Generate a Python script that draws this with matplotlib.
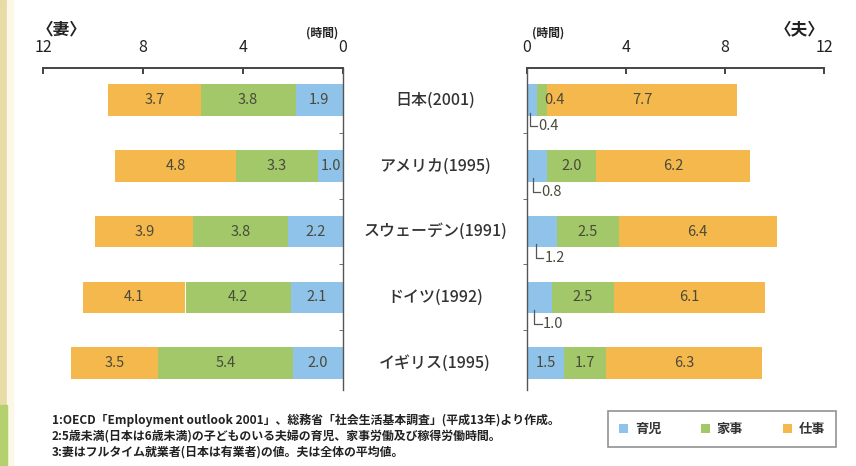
import matplotlib
matplotlib.use("Agg")
import matplotlib.pyplot as plt
from matplotlib.patches import Rectangle, Patch

plt.rcParams['font.family'] = ['Noto Sans CJK JP', 'DejaVu Sans']

countries = ["日本(2001)", "アメリカ(1995)", "スウェーデン(1991)", "ドイツ(1992)", "イギリス(1995)"]
series = ["育児", "家事", "仕事"]
wife_childcare = [1.9, 1.0, 2.2, 2.1, 2.0]
wife_housework = [3.8, 3.3, 3.8, 4.2, 5.4]
wife_work = [3.7, 4.8, 3.9, 4.1, 3.5]
husband_childcare = [0.4, 0.8, 1.2, 1.0, 1.5]
husband_housework = [0.4, 2.0, 2.5, 2.5, 1.7]
husband_work = [7.7, 6.2, 6.4, 6.1, 6.3]
xticks = [0, 4, 8, 12]
notes = [
    "1:OECD「Employment outlook 2001」、総務省「社会生活基本調査」(平成13年)より作成。",
    "2:5歳未満(日本は6歳未満)の子どものいる夫婦の育児、家事労働及び稼得労働時間。",
    "3:妻はフルタイム就業者(日本は有業者)の値。夫は全体の平均値。",
]

colors = ["#8fc3ea", "#a3c86a", "#f5b84c"]
TXT = "#4a4a3a"
W, H = 856, 466
fig = plt.figure(figsize=(W / 100, H / 100), dpi=100, facecolor="white")

def px(x0, y0, x1, y1):
    return [x0 / W, 1 - y1 / H, (x1 - x0) / W, (y1 - y0) / H]

# decorative border strips
fig.patches.append(Rectangle((0, 0), 7 / W, 1, transform=fig.transFigure, color="#e7dba6", zorder=0))
fig.patches.append(Rectangle((7 / W, 0), 6 / W, 1, transform=fig.transFigure, color="#fbf8e8", zorder=0))
fig.patches.append(Rectangle((0, 0), 7 / W, 61 / H, transform=fig.transFigure, color="#b5d06e", zorder=0))

n = len(countries)
ypos = list(range(n))
ylim = (4.41, -0.49)
bh = 0.48

axL = fig.add_axes(px(43, 68, 343, 390))
axR = fig.add_axes(px(527, 68, 824, 390))

for ax in (axL, axR):
    ax.set_facecolor("none")
    ax.set_ylim(*ylim)
    ax.set_xticks(xticks)
    ax.xaxis.tick_top()
    ax.tick_params(axis="x", direction="in", length=4, width=1.2, pad=9,
                   labelsize=11.5, colors="#222222", labelcolor="#222222")
    ax.spines["top"].set_linewidth(1.4)
    ax.spines["top"].set_color("#444444")
    ax.spines["bottom"].set_visible(False)
    ax.set_yticks([])
    ax.set_yticks([0.5, 1.5, 2.5, 3.5], minor=True)

axL.set_xlim(12, 0)
axL.spines["left"].set_visible(False)
axL.spines["right"].set_color("#555555")
axL.spines["right"].set_linewidth(1.0)
axL.yaxis.tick_right()
axL.tick_params(axis="y", which="minor", direction="in", length=3, color="#555555")

axR.set_xlim(0, 12)
axR.spines["right"].set_visible(False)
axR.spines["left"].set_color("#555555")
axR.spines["left"].set_linewidth(1.0)
axR.tick_params(axis="y", which="minor", direction="out", length=3, color="#555555")

FS = 10.5
# wife bars
wife = [wife_childcare, wife_housework, wife_work]
lefts = [0.0] * n
for s, vals in enumerate(wife):
    axL.barh(ypos, vals, left=lefts, height=bh, color=colors[s], zorder=2)
    for i, v in enumerate(vals):
        axL.text(lefts[i] + v / 2, i, f"{v:.1f}", ha="center", va="center",
                 fontsize=FS, color=TXT, zorder=3)
    lefts = [l + v for l, v in zip(lefts, vals)]

# husband bars
husb = [husband_childcare, husband_housework, husband_work]
lefts = [0.0] * n
for s, vals in enumerate(husb):
    axR.barh(ypos, vals, left=lefts, height=bh, color=colors[s], zorder=2)
    for i, v in enumerate(vals):
        if s == 0 and v < 1.4:
            # leader line label below the bar
            lx = v * 0.3
            yb = i + bh / 2
            yl = i + 0.40
            axR.plot([lx, lx, lx + 0.3], [yb - 0.05, yl, yl], color="#555555", lw=0.9,
                     zorder=3, clip_on=False)
            axR.text(lx + 0.35, yl, f"{v:.1f}", ha="left", va="center",
                     fontsize=FS, color=TXT, zorder=3)
            continue
        cx = lefts[i] + v / 2
        if v < 1.0:
            cx = lefts[i] + 0.7
        axR.text(cx, i, f"{v:.1f}", ha="center", va="center",
                 fontsize=FS, color=TXT, zorder=3)
    lefts = [l + v for l, v in zip(lefts, vals)]

# category labels
for i, c in enumerate(countries):
    yfig = 1 - (68 + (i - ylim[1]) / (ylim[0] - ylim[1]) * (390 - 68)) / H
    fig.text(435 / W, yfig, c, ha="center", va="center", fontsize=11.5, color="#333333",
             fontweight="medium")

fig.text(62 / W, 1 - 29 / H, "〈妻〉", ha="center", va="center", fontsize=12,
         color="#222222", fontweight="bold")
fig.text(800 / W, 1 - 29 / H, "〈夫〉", ha="center", va="center", fontsize=12,
         color="#222222", fontweight="bold")
fig.text(322 / W, 1 - 33 / H, "(時間)", ha="center", va="center", fontsize=8.5,
         color="#222222", fontweight="bold")
fig.text(548 / W, 1 - 33 / H, "(時間)", ha="center", va="center", fontsize=8.5,
         color="#222222", fontweight="bold")

for k, t in enumerate(notes):
    fig.text(52 / W, 1 - (420 + 16 * k) / H, t, ha="left", va="center", fontsize=8.6,
             color="#222222", fontweight="bold")

handles = [Patch(facecolor=c, edgecolor="none") for c in colors]
leg = fig.legend(handles, series, loc="center", bbox_to_anchor=(722 / W, 1 - 429 / H),
                 ncol=3, frameon=True, fancybox=False, edgecolor="#777777",
                 handlelength=0.7, handleheight=0.7, handletextpad=0.5,
                 columnspacing=3.0, fontsize=9.5, borderpad=0.8)
leg.get_frame().set_linewidth(1.2)
for t in leg.get_texts():
    t.set_fontweight("bold")
    t.set_color("#333333")

fig.savefig("out.png", dpi=100, facecolor=fig.get_facecolor())
